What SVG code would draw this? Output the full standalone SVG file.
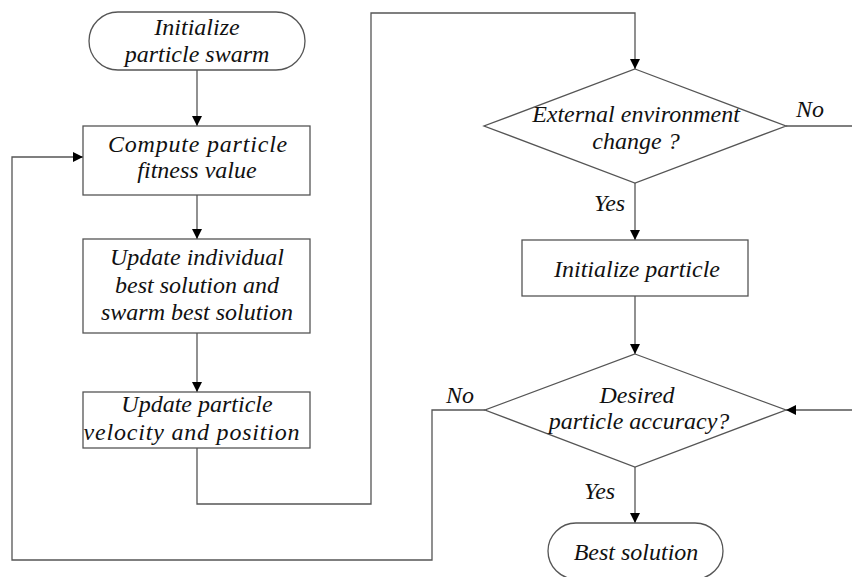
<svg xmlns="http://www.w3.org/2000/svg" width="852" height="577" viewBox="0 0 852 577">
<defs>
<style>
.shape{fill:#fff;stroke:#555;stroke-width:1.3}
.conn{fill:none;stroke:#555;stroke-width:1.3}
.t{font-family:'Liberation Serif','Times New Roman',serif;font-style:italic;font-size:24px;fill:#111}
.c{text-anchor:middle}
</style>
<marker id="arr" viewBox="0 0 10 10" refX="10" refY="5" markerWidth="10" markerHeight="10" markerUnits="userSpaceOnUse" orient="auto">
<path d="M0,0 L10,5 L0,10 z" fill="#000"/>
</marker>
</defs>
<rect width="852" height="577" fill="#fff"/>
<g id="connectors">
<line class="conn" x1="197" y1="70" x2="197" y2="126" marker-end="url(#arr)"/>
<line class="conn" x1="197" y1="195" x2="197" y2="239" marker-end="url(#arr)"/>
<line class="conn" x1="197" y1="333" x2="197" y2="392" marker-end="url(#arr)"/>
<polyline class="conn" points="197,448 197,504 371,504 371,13 635,13 635,69" marker-end="url(#arr)"/>
<line class="conn" x1="635" y1="183" x2="635" y2="240" marker-end="url(#arr)"/>
<line class="conn" x1="786" y1="126" x2="852" y2="126"/>
<line class="conn" x1="635" y1="296" x2="635" y2="354" marker-end="url(#arr)"/>
<line class="conn" x1="852" y1="410" x2="786" y2="410" marker-end="url(#arr)"/>
<polyline class="conn" points="485,410 432,410 432,560 12,560 12,157 83,157" marker-end="url(#arr)"/>
<line class="conn" x1="635" y1="467" x2="635" y2="523" marker-end="url(#arr)"/>
<text class="t" x="796" y="117">No</text>
<text class="t" x="594" y="211">Yes</text>
<text class="t" x="446" y="403">No</text>
<text class="t" x="584" y="499">Yes</text>
</g>
<g id="start">
<rect class="shape" x="89" y="12" width="216" height="58" rx="29"/>
<text class="t c" x="197" y="35">Initialize</text>
<text class="t c" x="197" y="62">particle swarm</text>
</g>
<g id="fitness">
<rect class="shape" x="83" y="126" width="227" height="69"/>
<text class="t c" x="198" y="152" letter-spacing="0.8">Compute  particle</text>
<text class="t c" x="197" y="178">fitness value</text>
</g>
<g id="update-best">
<rect class="shape" x="83" y="239" width="227" height="94"/>
<text class="t c" x="197" y="265">Update individual</text>
<text class="t c" x="197" y="293">best solution and</text>
<text class="t c" x="197" y="320">swarm best solution</text>
</g>
<g id="update-velocity">
<rect class="shape" x="83" y="392" width="227" height="56"/>
<text class="t c" x="197" y="412">Update particle</text>
<text class="t c" x="192" y="440" letter-spacing="0.8">velocity and position</text>
</g>
<g id="env-change">
<polygon class="shape" points="635,69 786,126 635,183 484,126"/>
<text class="t c" x="636" y="122">External environment</text>
<text class="t c" x="636" y="149">change ?</text>
</g>
<g id="init-particle">
<rect class="shape" x="522" y="240" width="226" height="56"/>
<text class="t c" x="637" y="277">Initialize particle</text>
</g>
<g id="accuracy">
<polygon class="shape" points="635,354 786,410 635,467 485,410"/>
<text class="t c" x="637" y="403">Desired</text>
<text class="t c" x="639" y="429">particle accuracy?</text>
</g>
<g id="best">
<rect class="shape" x="548" y="523" width="175" height="56" rx="28"/>
<text class="t c" x="636" y="560">Best solution</text>
</g>
</svg>
